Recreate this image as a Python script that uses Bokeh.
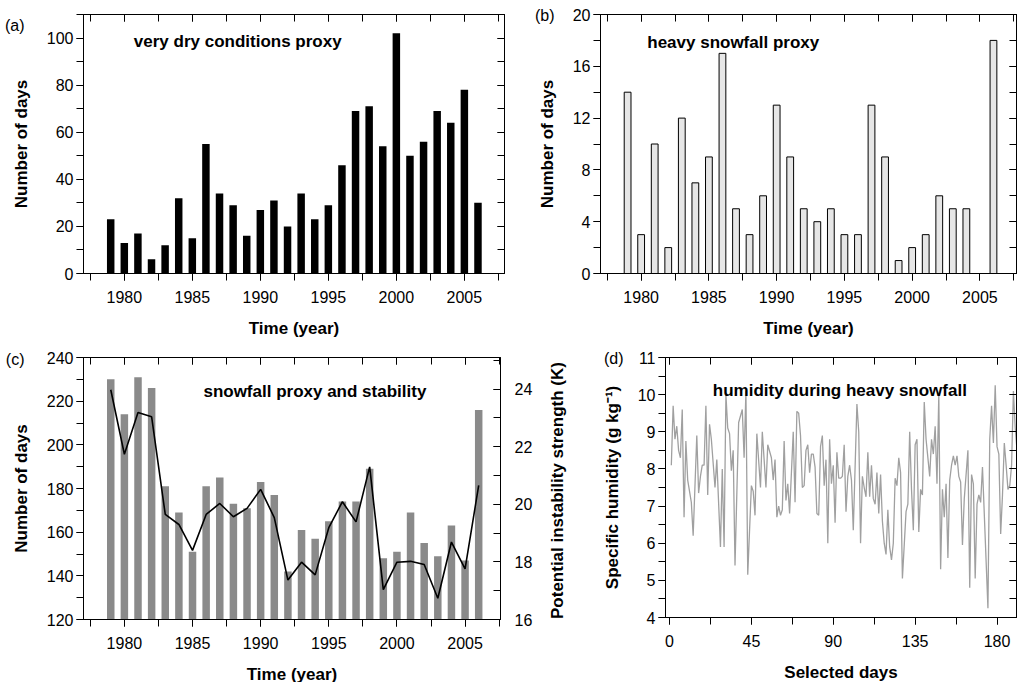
import json
import math
from bokeh.plotting import figure
from bokeh.models import (Label, LinearAxis, Range1d, SingleIntervalTicker, FixedTicker,
                          CustomJSTickFormatter)
from bokeh.layouts import column, row
from bokeh.embed import file_html
from bokeh.resources import INLINE

# ---------------- data ----------------
years = list(range(1979, 2007))
dry_days = [23, 13, 17, 6, 12, 32, 15, 55, 34, 29, 16, 27, 31, 20, 34, 23, 29, 46,
            69, 71, 54, 102, 50, 56, 69, 64, 78, 30]
snow_days = [14, 3, 10, 2, 12, 7, 9, 17, 5, 3, 6, 13, 9, 5, 4, 5, 3, 3,
             13, 9, 1, 2, 3, 6, 5, 5, 0, 18]
snowfall_days = [230, 214, 231, 226, 181, 169, 151, 181, 185, 173, 171, 183, 177, 142,
                 161, 157, 165, 174, 174, 189, 148, 151, 169, 155, 149, 163, 147, 216]
instability_K = [23.98, 21.74, 23.19, 23.04, 19.65, 19.30, 18.40, 19.65, 20.03, 19.57,
                 19.86, 20.52, 19.54, 17.37, 17.99, 17.55, 19.19, 20.09, 19.39, 21.30,
                 17.04, 17.99, 18.02, 17.91, 16.74, 18.69, 17.76, 20.66]

sel_days = [1, 2, 3, 4, 5, 6, 7, 8, 9, 10, 12, 13, 15, 16, 17, 18, 19, 20, 21, 22, 23, 25,
            26, 28, 29, 30, 31, 32, 33, 34, 35, 36, 38, 40, 41, 42, 43, 45, 46, 47, 48, 50,
            51, 53, 54, 56, 57, 58, 59, 60, 61, 62, 63, 64, 65, 66, 68, 69, 70, 71, 72, 73,
            74, 75, 76, 77, 78, 79, 80, 81, 82, 83, 84, 85, 86, 87, 88, 89, 90, 91, 92, 93,
            94, 95, 96, 97, 98, 99, 100, 101, 103, 104, 105, 106, 107, 108, 109, 110, 111,
            112, 113, 114, 115, 116, 117, 118, 119, 120, 121, 122, 123, 124, 125, 126, 127,
            128, 130, 131, 132, 133, 134, 135, 136, 137, 138, 139, 140, 141, 143, 144, 145,
            146, 147, 148, 149, 150, 151, 152, 153, 154, 155, 156, 157, 158, 159, 160, 161,
            162, 164, 165, 166, 167, 168, 169, 170, 171, 172, 175, 176, 177, 178, 179, 180,
            181, 182, 183, 184, 185, 186, 187, 188, 189, 190, 191, 192]
humidity = [8.1, 9.7, 8.8, 9.15, 8.5, 8.3, 9.6, 6.7, 8.75, 7.7, 7.1, 6.2, 8.9, 7.35, 7.8,
            8.1, 8.1, 9.7, 7.3, 9.2, 8.8, 7.5, 8.25, 5.9, 8.0, 5.9, 10.0, 9.1, 8.95, 7.95,
            8.5, 5.4, 9.25, 9.6, 8.3, 10.1, 5.15, 7.55, 7.4, 6.75, 8.95, 7.5, 9.0, 7.5, 8.65,
            8.3, 7.7, 8.25, 6.7, 7.0, 6.75, 6.9, 8.75, 7.15, 7.6, 6.8, 9.0, 7.1, 9.55, 9.5,
            8.9, 7.5, 7.55, 8.5, 8.65, 7.9, 8.4, 8.4, 8.05, 6.8, 6.75, 8.6, 8.9, 7.55, 8.25,
            6.0, 8.8, 7.6, 8.1, 6.55, 8.45, 7.75, 7.75, 7.8, 8.65, 6.85, 7.8, 8.1, 7.7, 6.35,
            9.75, 9.0, 6.0, 7.8, 7.5, 7.25, 8.45, 7.25, 8.1, 7.2, 7.05, 7.9, 6.8, 7.85, 6.6,
            6.0, 5.7, 6.9, 5.9, 5.55, 6.0, 7.75, 7.55, 8.3, 7.9, 5.05, 6.85, 7.05, 9.0, 7.45,
            6.35, 8.65, 8.8, 6.3, 7.45, 7.3, 9.8, 8.8, 7.8, 8.8, 8.4, 9.15, 7.6, 10.0, 5.3,
            7.45, 6.7, 7.6, 5.6, 7.7, 8.1, 8.35, 8.1, 8.35, 7.8, 7.65, 5.95, 7.2, 8.5, 4.8,
            7.85, 7.6, 5.05, 7.05, 7.3, 7.1, 8.05, 4.25, 8.8, 9.7, 8.7, 10.25, 8.6, 8.4, 6.25,
            7.3, 8.7, 8.1, 7.45, 7.55, 8.1, 10.1, 9.1, 8.5, 7.6]

FONT = "Liberation Sans"
TICK_FS = "16px"
LABEL_FS = "17px"


def make_fig(xr, yr, fw, fh, bl, br, bt, bb):
    p = figure(x_range=xr, y_range=yr, frame_width=fw, frame_height=fh,
               min_border_left=bl, min_border_right=br, min_border_top=bt,
               min_border_bottom=bb, output_backend="svg", toolbar_location=None,
               tools="")
    p.xgrid.visible = False
    p.ygrid.visible = False
    p.outline_line_color = "black"
    p.outline_line_width = 1
    p.background_fill_color = "white"
    p.border_fill_color = "white"
    return p


def style_axis(ax, ticker, label=None, inward=False, xaxis=False):
    ax.ticker = ticker
    ax.axis_line_color = "black"
    ax.major_tick_line_color = "black"
    ax.minor_tick_line_color = "black"
    if inward:
        ax.major_tick_in, ax.major_tick_out = 7, 0
        ax.minor_tick_in, ax.minor_tick_out = 7, 0
    else:
        ax.major_tick_in, ax.major_tick_out = 0, 7
        ax.minor_tick_in, ax.minor_tick_out = 0, 7
    ax.major_label_text_font = FONT
    ax.major_label_text_font_size = TICK_FS
    ax.major_label_text_color = "black"
    ax.major_label_standoff = 10 if xaxis else 3
    if label is not None:
        ax.axis_label = label
        ax.axis_label_text_font = FONT
        ax.axis_label_text_font_size = LABEL_FS
        ax.axis_label_text_font_style = "bold"
        ax.axis_label_text_color = "black"
        ax.axis_label_standoff = 13


def mirror(p, loc, ticker):
    ax = LinearAxis(ticker=ticker, major_label_text_font_size="1px",
                    major_label_text_color=None,
                    major_tick_in=7, major_tick_out=0, minor_tick_in=7, minor_tick_out=0,
                    major_label_standoff=0, axis_line_color="black",
                    major_tick_line_color="black", minor_tick_line_color="black")
    p.add_layout(ax, loc)


def year_ticker():
    return SingleIntervalTicker(interval=5, num_minor_ticks=2)


def add_text(p, x, y, text):
    p.add_layout(Label(x=x, y=y, text=text, text_font=FONT, text_font_size=LABEL_FS,
                       text_font_style="bold", text_color="black",
                       text_align="left", text_baseline="middle"))


def text_axis(p, side, text, frame_h, pos, standoff, size, bold=False, orient="horizontal"):
    """A bare axis carrying one label, used to place text outside the frame."""
    name = "txt_" + side
    rngs = dict(p.extra_y_ranges)
    rngs[name] = Range1d(0, frame_h)
    p.extra_y_ranges = rngs
    ax = LinearAxis(y_range_name=name, ticker=FixedTicker(ticks=[pos]),
                    formatter=CustomJSTickFormatter(code="return %s;" % json.dumps(text)),
                    axis_line_color=None, major_tick_line_color=None,
                    minor_tick_line_color=None, major_tick_in=0, major_tick_out=0,
                    minor_tick_in=0, minor_tick_out=0, major_label_standoff=standoff,
                    major_label_text_font=FONT, major_label_text_font_size=size,
                    major_label_text_font_style="bold" if bold else "normal",
                    major_label_text_color="black", major_label_orientation=orient)
    p.add_layout(ax, side)


# ---------------- (a) ----------------
pa = make_fig(Range1d(1977, 2007.95), Range1d(0, 110), 421, 259, 83, 10, 14, 67)
pa.vbar(x=years, top=dry_days, width=0.55, fill_color="black", line_color=None)
style_axis(pa.xaxis[0], year_ticker(), "Time (year)", xaxis=True)
style_axis(pa.yaxis[0], SingleIntervalTicker(interval=20, num_minor_ticks=2), "Number of days")
mirror(pa, "above", year_ticker())
mirror(pa, "right", SingleIntervalTicker(interval=20, num_minor_ticks=2))
add_text(pa, 1980.7, 98.4, "very dry conditions proxy")
text_axis(pa, "left", "(a)", 259, 248, -16, TICK_FS)

# ---------------- (b) ----------------
pb = make_fig(Range1d(1977, 2007.7), Range1d(0, 20), 416, 259, 86, 1, 14, 67)
pb.vbar(x=years, top=snow_days, width=0.5, fill_color="#e6e6e6", line_color="black",
        line_width=1)
style_axis(pb.xaxis[0], year_ticker(), "Time (year)", xaxis=True)
style_axis(pb.yaxis[0], SingleIntervalTicker(interval=4, num_minor_ticks=2), "Number of days")
mirror(pb, "above", year_ticker())
mirror(pb, "right", SingleIntervalTicker(interval=4, num_minor_ticks=2))
add_text(pb, 1980.45, 17.8, "heavy snowfall proxy")
text_axis(pb, "left", "(b)", 259, 258, -20, TICK_FS)

# ---------------- (c) ----------------
pc = make_fig(Range1d(1977, 2007.6), Range1d(120, 240), 417, 262, 83, 78, 15, 65)
pc.extra_y_ranges = {"k": Range1d(16, 25.1)}
pc.vbar(x=years, top=snowfall_days, bottom=0, width=0.55, fill_color="#8a8a8a",
        line_color=None)
pc.line(years, instability_K, y_range_name="k", line_color="black", line_width=1.6)
style_axis(pc.xaxis[0], year_ticker(), "Time (year)", xaxis=True)
style_axis(pc.yaxis[0], SingleIntervalTicker(interval=20, num_minor_ticks=2), "Number of days")
kax = LinearAxis(y_range_name="k")
style_axis(kax, SingleIntervalTicker(interval=2, num_minor_ticks=2), None, inward=True)
kax.major_label_standoff = 14
pc.add_layout(kax, "right")
text_axis(pc, "right", "Potential instability strength (K)", 262, 0.5, 22, LABEL_FS,
          bold=True, orient=math.pi / 2)
mirror(pc, "above", year_ticker())
add_text(pc, 1985.8, 224.3, "snowfall proxy and stability")
text_axis(pc, "left", "(c)", 262, 260.3, -16, TICK_FS)

# ---------------- (d) ----------------
pd_ = make_fig(Range1d(-2.2, 190.7), Range1d(4, 11), 351, 260, 86, 1, 17, 65)
pd_.line(sel_days, humidity, line_color="#a0a0a0", line_width=1.3)
style_axis(pd_.xaxis[0], SingleIntervalTicker(interval=45, num_minor_ticks=2),
           "Selected days", xaxis=True)
style_axis(pd_.yaxis[0], SingleIntervalTicker(interval=1, num_minor_ticks=2),
           "Specific humidity (g kg\u207b\u00b9)")
mirror(pd_, "above", SingleIntervalTicker(interval=45, num_minor_ticks=2))
mirror(pd_, "right", SingleIntervalTicker(interval=1, num_minor_ticks=2))
add_text(pd_, 23.8, 10.12, "humidity during heavy snowfall")
text_axis(pd_, "left", "(d)", 260, 259.5, -24, TICK_FS)

layout = column(row(pa, pb), row(pc, pd_))
open("out.html", "w").write(file_html(layout, INLINE))
